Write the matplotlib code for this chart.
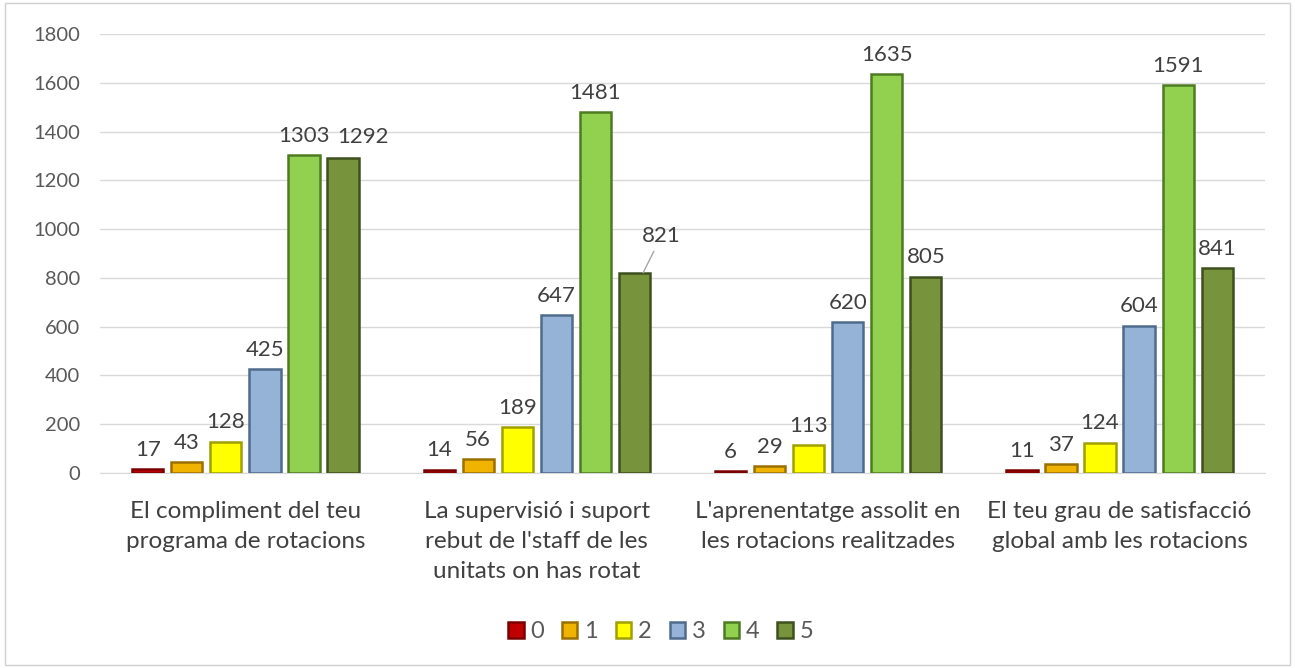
import matplotlib
matplotlib.use("Agg")
import matplotlib.pyplot as plt
import numpy as np
from matplotlib.patches import Rectangle

categories = ["El compliment del teu\nprograma de rotacions",
              "La supervisió i suport\nrebut de l'staff de les\nunitats on has rotat",
              "L'aprenentatge assolit en\nles rotacions realitzades",
              "El teu grau de satisfacció\nglobal amb les rotacions"]
series_names = ["0", "1", "2", "3", "4", "5"]
values = [
    [17, 14, 6, 11],
    [43, 56, 29, 37],
    [128, 189, 113, 124],
    [425, 647, 620, 604],
    [1303, 1481, 1635, 1591],
    [1292, 821, 805, 841],
]
colors = ["#C00000", "#F0B400", "#FFFF00", "#95B3D7", "#92D050", "#77933C"]
edges = ["#7A0000", "#9A7000", "#A0A000", "#4F6A8C", "#4E7A22", "#3E5020"]

plt.rcParams['font.family'] = ['Lato', 'DejaVu Sans']
fig = plt.figure(figsize=(12.95, 6.68), dpi=100)
fig.patches.append(Rectangle((0.004, 0.004), 0.992, 0.992, transform=fig.transFigure,
                             fill=False, edgecolor="#D0D0D0", linewidth=1))
ax = fig.add_axes([0.077, 0.292, 0.900, 0.657])

x = np.arange(len(categories))
step = 0.134
width = 0.107
txt = "#404040"
for i, (name, vals) in enumerate(zip(series_names, values)):
    pos = x + (i - 2.5) * step
    ax.bar(pos, vals, width, color=colors[i], edgecolor=edges[i], linewidth=1.8,
           label=name, zorder=3)
    for j, (p, v) in enumerate(zip(pos, vals)):
        if i == 5 and j == 1:
            ax.annotate(str(v), xy=(p + 0.03, v), xytext=(p + 0.093, v + 110),
                        ha="center", va="bottom", fontsize=16, color=txt,
                        arrowprops=dict(arrowstyle="-", color="#A6A6A6", lw=1,
                                        shrinkA=2, shrinkB=0))
        elif i == 5 and j == 0:
            ax.text(p + 0.07, v + 45, str(v), ha="center", va="bottom", fontsize=16, color=txt)
        else:
            ax.text(p, v + 38, str(v), ha="center", va="bottom", fontsize=16, color=txt)

ax.set_xlim(-0.5, 3.5)
ax.set_ylim(0, 1800)
ax.set_yticks(range(0, 1801, 200))
ax.yaxis.grid(True, color="#D9D9D9", linewidth=1, zorder=0)
ax.set_axisbelow(True)
for s in ["top", "right", "left"]:
    ax.spines[s].set_visible(False)
ax.spines["bottom"].set_color("#D9D9D9")
ax.tick_params(axis="both", length=0, labelsize=14.5, colors="#595959")
ax.tick_params(axis="y", pad=14)
ax.set_xticks(x)
ax.set_xticklabels(categories, fontsize=17.5, color=txt, linespacing=1.55)
ax.tick_params(axis="x", pad=20)

ax.legend(loc="center", bbox_to_anchor=(0.4815, -0.362), ncol=6, frameon=False,
          fontsize=17, handlelength=0.65, handleheight=0.65, handletextpad=0.3,
          columnspacing=0.75, labelcolor="#595959")

fig.savefig("out.png", dpi=100)
